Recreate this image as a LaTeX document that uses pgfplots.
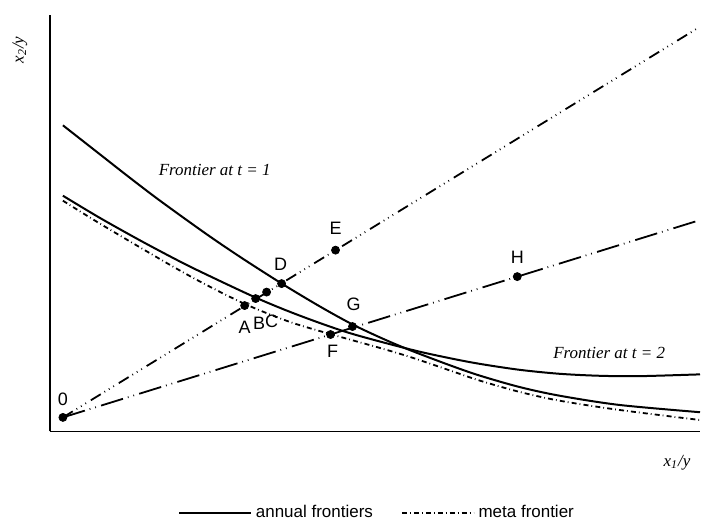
\documentclass[border=0pt]{standalone}
\usepackage{fontspec}
\setmainfont{Liberation Sans}
\newfontfamily\serif{Liberation Serif}
\usepackage{pgfplots}
\pgfplotsset{compat=1.18}
\begin{document}
\begin{tikzpicture}
\begin{axis}[
 scale only axis, width=325.5pt, height=208.5pt,
 xmin=50, xmax=701, ymin=97, ymax=514,
 axis x line*=bottom, axis y line*=left,
 axis line style={-, line width=0.6pt},
 xtick=\empty, ytick=\empty,
 clip=false,
 font=\fontsize{9}{10}\selectfont,
 legend columns=2,
 legend style={at={(axis cs:378.5,15)}, anchor=center, draw=none, fill=none,
   font=\fontsize{8.5}{10}\selectfont,
   /tikz/every even column/.append style={column sep=12pt}},
 legend image code/.code={\draw[#1] (0pt,0pt) -- (36pt,0pt);},
]
% rays
\addplot[forget plot, line width=0.9pt, dash pattern=on 5.8pt off 2.2pt on 0.4pt off 2.2pt on 0.4pt off 2.2pt on 0.4pt off 2.8pt] coordinates {(63,111) (699,501)};
\addplot[forget plot, line width=0.9pt, dash pattern=on 11.5pt off 2.5pt on 0.4pt off 2.5pt on 0.4pt off 2.7pt] coordinates {(63,111) (699,308)};
% annual frontier t=1
\addplot[line width=1pt, smooth] coordinates {
(63,403.5) (100,374.5) (130,351) (160,328.2) (205,295.8) (240,272) (282,245.1) (320,222.3)
(353,204.1) (385,189.1) (412,177.8) (450,163.4) (480,153) (520,141.5) (560,132.8) (620,123.5) (701,116.2)};
\addlegendentry{annual frontiers}
% meta frontier
\addplot[line width=0.9pt, smooth, dash pattern=on 2.5pt off 1.5pt on 0.4pt off 1.6pt] coordinates {
(63,328) (100,305.1) (162,268.5) (200,247.2) (245,224.7) (290,206.7) (331,194.4) (380,180.7)
(412,171.1) (450,158.2) (480,148) (520,136.6) (560,127.8) (620,118.5) (701,108.4)};
\addlegendentry{meta frontier}
% annual frontier t=2
\addplot[forget plot, line width=1pt, smooth] coordinates {
(63,333) (100,310.8) (140,288.4) (175,269.8) (200,257.3) (256,231) (300,213) (350,195.5)
(412,178.8) (450,170.4) (480,164.7) (520,158.7) (560,154.7) (600,152.7) (640,152.3) (701,154.1)};
% points
\addplot[forget plot, only marks, mark=*, mark size=2pt, black] coordinates {
(63,111) (245,223) (256,230) (267,236.5) (282,245) (336,278.5) (331,194) (353,202) (518,252)};
% labels
\node at (axis cs:63,129) {0};
\node at (axis cs:245,201) {A};
\node at (axis cs:259.5,205) {B};
\node at (axis cs:272,207) {C};
\node at (axis cs:281,264) {D};
\node at (axis cs:336,300) {E};
\node at (axis cs:333,177) {F};
\node at (axis cs:354,224) {G};
\node at (axis cs:518,271) {H};
\node[font=\serif\itshape\fontsize{8.5}{10}\selectfont] at (axis cs:215,359) {Frontier at t = 1};
\node[font=\serif\itshape\fontsize{8.5}{10}\selectfont] at (axis cs:610,176) {Frontier at t = 2};
\node[font=\serif\itshape\fontsize{8.5}{10}\selectfont] at (axis cs:678,66) {x\textsubscript{1}/y};
\node[font=\serif\itshape\fontsize{8.5}{10}\selectfont, rotate=90] at (axis cs:20,479) {x\textsubscript{2}/y};
\path (axis cs:0,0) rectangle (axis cs:701,529);
\end{axis}
\end{tikzpicture}
\end{document}
